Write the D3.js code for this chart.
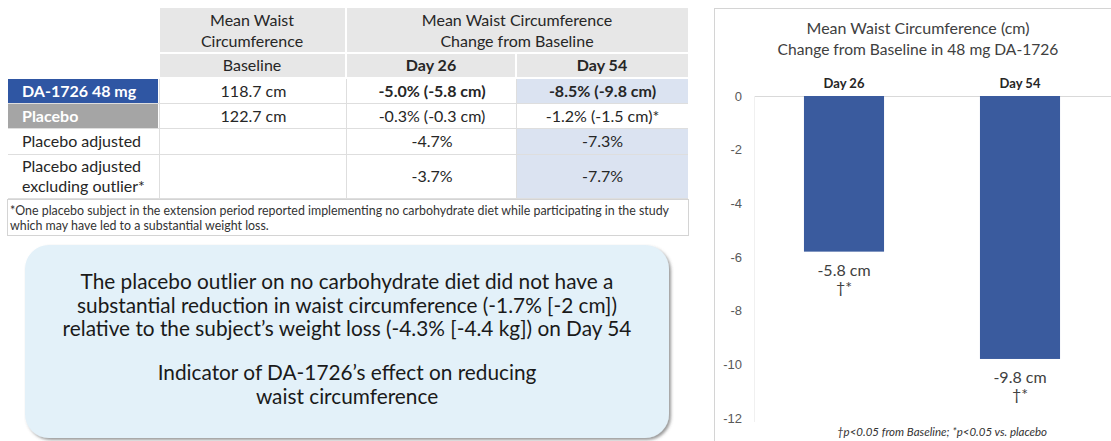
<!DOCTYPE html>
<html lang="en">
<head>
  <meta charset="UTF-8" />
  <title>Mean Waist Circumference</title>
  <script src="https://d3js.org/d3.v7.min.js"></script>
  <style>
    body { margin: 0; padding: 0; background: #fff; }
    svg { display: block; font-family: Lato, "Open Sans", sans-serif; }
    .cell-text { fill: #262626; font-size: 16px; text-anchor: middle; }
    .tick-label { fill: #595959; font-size: 13px; text-anchor: end; }
  </style>
</head>
<body>
  <svg width="1111" height="441"></svg>
  <script>
    // ---- data ----
    const rowLabels = ["DA-1726 48 mg", "Placebo", "Placebo adjusted", "Placebo adjusted\nexcluding outlier*"];
    const baselineCol = ["118.7 cm", "122.7 cm", "", ""];
    const day26Col = ["-5.0% (-5.8 cm)", "-0.3% (-0.3 cm)", "-4.7%", "-3.7%"];
    const day54Col = ["-8.5% (-9.8 cm)", "-1.2% (-1.5 cm)*", "-7.3%", "-7.7%"];
    const boldRows = [true, false, false, false];
    const day54Shaded = [true, false, true, true];

    const categories = ["Day 26", "Day 54"];
    const waistChange = [-5.8, -9.8];
    const sigMarks = ["†*", "†*"];
    const yTicks = [0, -2, -4, -6, -8, -10, -12];

    const calloutLines = [
      "The placebo outlier on no carbohydrate diet did not have a",
      "substantial reduction in waist circumference (-1.7% [-2 cm])",
      "relative to the subject’s weight loss (-4.3% [-4.4 kg]) on Day 54",
      "",
      "Indicator of DA-1726’s effect on reducing",
      "waist circumference"
    ];

    const svg = d3.select("svg");

    // ---- table ----
    const colX = [7, 160, 347, 517, 688];
    const rowY = [79, 104, 129, 155, 199];
    const headGrey = "#e7e7e7";
    const lineGrey = "#dedede";
    const table = svg.append("g");

    // header cells
    const headCells = [
      { x0: 160, x1: 345, y0: 8, y1: 52 },
      { x0: 347, x1: 688, y0: 8, y1: 52 },
      { x0: 160, x1: 345, y0: 54, y1: 77 },
      { x0: 347, x1: 515, y0: 54, y1: 77 },
      { x0: 517, x1: 688, y0: 54, y1: 77 }
    ];
    table.selectAll("rect.head").data(headCells).join("rect")
      .attr("x", d => d.x0).attr("y", d => d.y0)
      .attr("width", d => d.x1 - d.x0).attr("height", d => d.y1 - d.y0)
      .attr("fill", headGrey);

    const headText = [
      { x: 252, y: 26, t: "Mean Waist" }, { x: 252, y: 47, t: "Circumference" },
      { x: 517, y: 26, t: "Mean Waist Circumference" }, { x: 517, y: 47, t: "Change from Baseline" },
      { x: 252, y: 71, t: "Baseline" },
      { x: 431, y: 71, t: "Day 26", b: true }, { x: 602, y: 71, t: "Day 54", b: true }
    ];
    table.selectAll("text.head").data(headText).join("text")
      .attr("class", "cell-text")
      .attr("x", d => d.x).attr("y", d => d.y)
      .attr("font-weight", d => d.b ? 700 : 400)
      .text(d => d.t);

    // body rows
    rowLabels.forEach((label, i) => {
      const y0 = rowY[i], y1 = rowY[i + 1] - 1;
      const h = y1 - y0;
      let labelFill = "#fff", labelColor = "#262626";
      if (i === 0) { labelFill = "#2f56a3"; labelColor = "#fff"; }
      if (i === 1) { labelFill = "#a5a5a5"; labelColor = "#fff"; }
      table.append("rect").attr("x", 8).attr("y", y0).attr("width", 150).attr("height", h)
        .attr("fill", labelFill);
      if (day54Shaded[i]) {
        table.append("rect").attr("x", 517).attr("y", y0).attr("width", 171).attr("height", h)
          .attr("fill", "#dbe3f1");
      }
      const lines = label.split("\n");
      lines.forEach((ln, k) => {
        table.append("text")
          .attr("x", 22)
          .attr("y", y0 + h / 2 + 5.5 + (k - (lines.length - 1) / 2) * 20)
          .attr("fill", labelColor)
          .attr("font-size", 16)
          .attr("font-weight", i < 2 ? 700 : 400)
          .text(ln);
      });
      [baselineCol[i], day26Col[i], day54Col[i]].forEach((v, c) => {
        table.append("text")
          .attr("class", "cell-text")
          .attr("x", (colX[c + 1] + colX[c + 2]) / 2)
          .attr("y", y0 + h / 2 + 5.5)
          .attr("font-weight", boldRows[i] && c > 0 ? 700 : 400)
          .text(v);
      });
      table.append("line").attr("x1", 8).attr("x2", 688)
        .attr("y1", y1 + 0.5).attr("y2", y1 + 0.5)
        .attr("stroke", lineGrey);
    });
    [159, 346, 516].forEach(x => {
      table.append("line").attr("x1", x + 0.5).attr("x2", x + 0.5)
        .attr("y1", 79).attr("y2", 199).attr("stroke", lineGrey);
    });
    // footnote box
    table.append("rect").attr("x", 7.5).attr("y", 199.5).attr("width", 681).attr("height", 36)
      .attr("fill", "#fff").attr("stroke", "#d4d4d4");
    table.append("text").attr("x", 10).attr("y", 215).attr("font-size", 12.4).attr("fill", "#333")
      .text("*One placebo subject in the extension period reported implementing no carbohydrate diet while participating in the study");
    table.append("text").attr("x", 10).attr("y", 230).attr("font-size", 12.4).attr("fill", "#333")
      .text("which may have led to a substantial weight loss.");

    // ---- callout ----
    const defs = svg.append("defs");
    defs.append("filter").attr("id", "shadow").attr("x", "-5%").attr("y", "-5%").attr("width", "115%").attr("height", "115%")
      .append("feDropShadow").attr("dx", 2).attr("dy", 2).attr("stdDeviation", 1.5)
      .attr("flood-color", "#555").attr("flood-opacity", 0.6);
    svg.append("rect").attr("x", 25).attr("y", 245).attr("width", 644).attr("height", 193)
      .attr("rx", 24).attr("fill", "#e3f1f9").attr("filter", "url(#shadow)");
    svg.append("g").selectAll("text").data(calloutLines).join("text")
      .attr("x", 347)
      .attr("y", (d, i) => 289 + i * 23.5 - (i > 3 ? 3 : 0))
      .attr("text-anchor", "middle")
      .attr("font-size", 20.8)
      .attr("fill", "#1a1a1a")
      .text(d => d);

    // ---- bar chart ----
    svg.append("rect").attr("x", 714.5).attr("y", 8.5).attr("width", 500).attr("height", 500)
      .attr("fill", "none").attr("stroke", "#d4d4d4");

    const y = d3.scaleLinear().domain([-12, 0]).range([418, 96]);
    const x = d3.scaleBand().domain(categories).range([756, 1108])
      .paddingInner(0.545).paddingOuter(0.2725);

    const chart = svg.append("g");
    chart.append("text").attr("x", 918).attr("y", 34).attr("text-anchor", "middle")
      .attr("font-size", 16).attr("fill", "#404040").text("Mean Waist Circumference (cm)");
    chart.append("text").attr("x", 918).attr("y", 55).attr("text-anchor", "middle")
      .attr("font-size", 15.6).attr("fill", "#404040").text("Change from Baseline in 48 mg DA-1726");

    chart.append("line").attr("x1", 754.5).attr("x2", 754.5).attr("y1", 96).attr("y2", 422)
      .attr("stroke", "#f0f0f0");

    const yAxis = d3.axisLeft(y).tickValues(yTicks).tickFormat(d => String(d)).tickSize(0).tickPadding(0);
    const ag = chart.append("g").attr("transform", "translate(742,0)").call(yAxis);
    ag.select(".domain").remove();
    ag.selectAll("text").attr("class", "tick-label").attr("font-family", null).attr("font-size", null);

    chart.append("line").attr("x1", 755).attr("x2", 1111).attr("y1", y(0) + 0.5).attr("y2", y(0) + 0.5)
      .attr("stroke", "#d9d9d9");

    chart.selectAll("rect.bar").data(categories).join("rect")
      .attr("class", "bar")
      .attr("x", d => x(d))
      .attr("y", y(0))
      .attr("width", x.bandwidth())
      .attr("height", (d, i) => y(waistChange[i]) - y(0))
      .attr("fill", "#3a5b9e");

    chart.selectAll("text.cat").data(categories).join("text")
      .attr("x", d => x(d) + x.bandwidth() / 2).attr("y", 88)
      .attr("text-anchor", "middle").attr("font-size", 13).attr("font-weight", 700)
      .attr("fill", "#262626").text(d => d);

    chart.selectAll("text.val").data(categories).join("text")
      .attr("x", d => x(d) + x.bandwidth() / 2)
      .attr("y", (d, i) => y(waistChange[i]) + 24)
      .attr("text-anchor", "middle").attr("font-size", 16).attr("fill", "#404040")
      .text((d, i) => waistChange[i].toFixed(1) + " cm");
    chart.selectAll("text.sig").data(categories).join("text")
      .attr("x", d => x(d) + x.bandwidth() / 2)
      .attr("y", (d, i) => y(waistChange[i]) + 41)
      .attr("text-anchor", "middle").attr("font-size", 16).attr("fill", "#404040")
      .text((d, i) => sigMarks[i]);

    chart.append("text").attr("x", 942).attr("y", 436).attr("text-anchor", "middle")
      .attr("font-size", 11.5).attr("font-style", "italic").attr("fill", "#333")
      .text("†p<0.05 from Baseline; *p<0.05 vs. placebo");
  </script>
</body>
</html>
